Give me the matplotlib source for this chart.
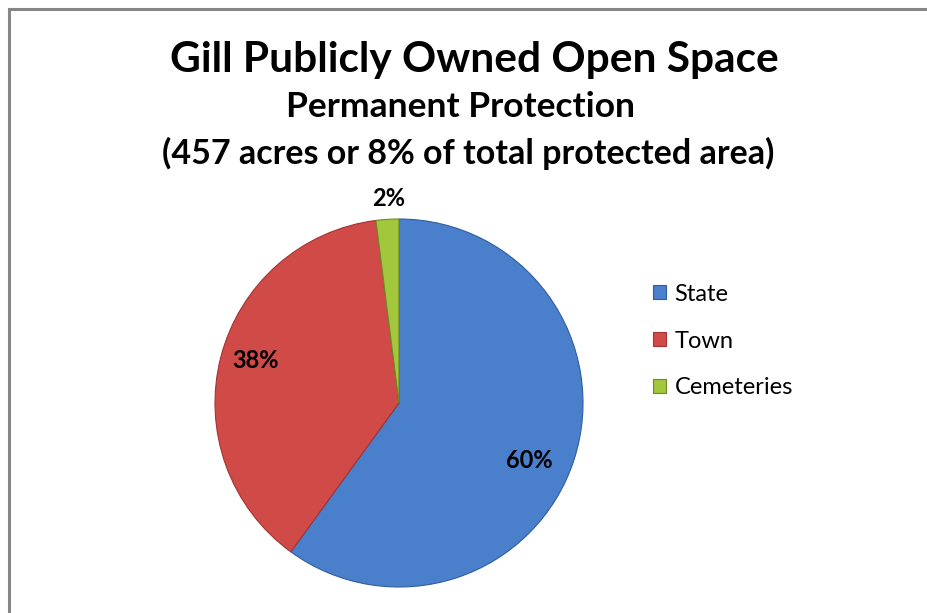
import matplotlib
matplotlib.use("Agg")
import matplotlib.pyplot as plt
from matplotlib.patches import Rectangle

categories = ["State", "Town", "Cemeteries"]
shares = [60, 38, 2]
colors = ["#4A7FCC", "#D04A48", "#A2C63C"]
edges = ["#2F5E9E", "#A33432", "#6E8A22"]

title = "Gill Publicly Owned Open Space"
subtitle = "Permanent Protection"
subtitle2 = "(457 acres or 8% of total protected area)"

W, H = 928, 613
fig = plt.figure(figsize=(W / 100, H / 100), dpi=100)
fig.patch.set_facecolor("white")

# frame (top and left edges visible)
fig.add_artist(plt.Line2D([9 / W, 9 / W], [0, 1 - 9 / H], color="#868686", lw=2.2, transform=fig.transFigure))
fig.add_artist(plt.Line2D([9 / W, 1], [1 - 9 / H, 1 - 9 / H], color="#868686", lw=2.2, transform=fig.transFigure))

font = "Lato"
fig.text(474 / W, 1 - 60 / H, title, ha="center", va="center", fontsize=30.5, fontweight="bold", family=font)
fig.text(461 / W, 1 - 107 / H, subtitle, ha="center", va="center", fontsize=25.5, fontweight="bold", family=font)
fig.text(468 / W, 1 - 153 / H, subtitle2, ha="center", va="center", fontsize=24.5, fontweight="bold", family=font)

# pie axes
cx, cy, r = 399, 403, 184
ax = fig.add_axes([(cx - r) / W, (H - cy - r) / H, 2 * r / W, 2 * r / H])
wedges, texts = ax.pie(shares, colors=colors, startangle=90, counterclock=False,
                       radius=1, wedgeprops=dict(linewidth=0.8))
for w, ec in zip(wedges, edges):
    w.set_edgecolor(ec)
ax.set_xlim(-1, 1)
ax.set_ylim(-1, 1)
ax.set_aspect("equal")
ax.axis("off")

label_pos = [(130, 57), (-143, -43), (-10, -204)]
for s, (dx, dy) in zip(shares, label_pos):
    ax.text(dx / r, -dy / r, f"{s}%", ha="center", va="center", fontsize=17,
            fontweight="bold", family=font, clip_on=False)

handles = [Rectangle((0, 0), 1, 1, facecolor=c, edgecolor=e, lw=0.8) for c, e in zip(colors, edges)]
leg = fig.legend(handles, categories, loc="center left", bbox_to_anchor=(632 / W, 1 - 341 / H),
                 frameon=False, prop={"family": font, "size": 17}, handlelength=0.55,
                 handleheight=0.55, handletextpad=0.35, labelspacing=1.1)

fig.savefig("out.png", dpi=100)
